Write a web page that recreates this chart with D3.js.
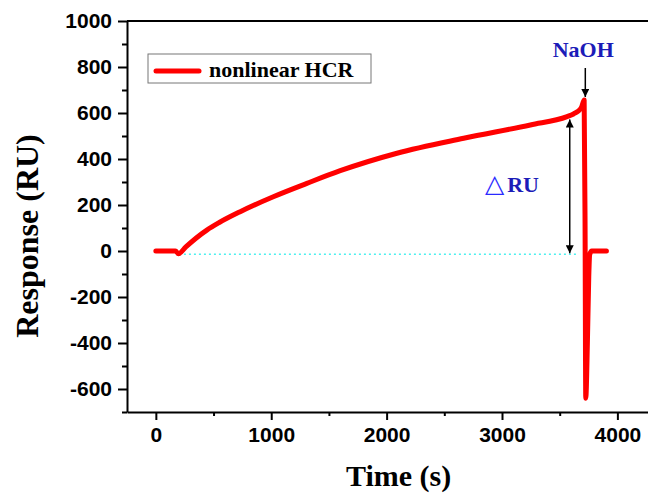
<!DOCTYPE html>
<html>
<head>
<meta charset="utf-8">
<script src="https://cdn.jsdelivr.net/npm/d3@7"></script>
<style>
    body { margin: 0; background: #fff; }
    svg { display: block; }
</style>
</head>
<body>
<div id="chart"></div>
<script>
// sensorgram
const times  = [0, 100, 170, 196, 260, 442, 550, 731, 1018, 1309, 1598, 2090, 2668, 3246, 3564, 3620, 3660, 3690, 3712, 3720, 3726, 3740, 3752, 3760, 3778, 3905];
const values = [0, 0, 0, -12, 18, 91, 124, 171, 236, 294, 349, 425, 490, 548, 584, 596, 608, 626, 656, 100, -640, -400, -110, -15, 0, 0];

const seriesName = "nonlinear HCR";
const xTicks = [0, 1000, 2000, 3000, 4000];
const xMinor = [500, 1500, 2500, 3500];
const yTicks = [-600, -400, -200, 0, 200, 400, 600, 800, 1000];
const yMinor = [-700, -500, -300, -100, 100, 300, 500, 700, 900];

// annotations: baseline, delta-RU arrow, injection arrow
const baseline = { from: 200, to: 3650, value: -14 };
const deltaArrow = { t: 3587, from: -10, to: 572 };
const naohArrow = { t: 3722, label: "NaOH" };

const width = 648, height = 494;
const margin = { top: 21, left: 127, bottom: 412 };

const svg = d3.select("#chart").append("svg")
    .attr("width", width)
    .attr("height", height);

const x = d3.scaleLinear().domain([-250, 4300]).range([margin.left, 652]);
const y = d3.scaleLinear().domain([-700, 1000]).range([margin.bottom, margin.top]);

const tickFont = "'Liberation Sans', Arial, sans-serif";
const serif = "'Liberation Serif', 'Times New Roman', serif";
const blue = "#1c1cb8";
const plain = d => String(d);

// frame top line
svg.append("line")
    .attr("x1", margin.left).attr("x2", width)
    .attr("y1", margin.top).attr("y2", margin.top)
    .attr("stroke", "#000").attr("stroke-width", 2);

// axes
svg.append("g")
    .attr("transform", `translate(0,${margin.bottom})`)
    .call(d3.axisBottom(x).tickValues(xTicks).tickFormat(plain).tickSize(8).tickSizeOuter(0).tickPadding(7));

svg.append("g")
    .attr("transform", `translate(0,${margin.bottom})`)
    .call(d3.axisBottom(x).tickValues(xMinor).tickSize(4).tickFormat(""))
    .call(g => g.select(".domain").remove());

svg.append("g")
    .attr("transform", `translate(${margin.left},0)`)
    .call(d3.axisLeft(y).tickValues(yTicks).tickFormat(plain).tickSize(9).tickSizeOuter(0).tickPadding(6));

svg.append("g")
    .attr("transform", `translate(${margin.left},0)`)
    .call(d3.axisLeft(y).tickValues(yMinor).tickSize(5).tickFormat(""))
    .call(g => g.select(".domain").remove());

svg.selectAll(".domain").attr("stroke-width", 2);
svg.selectAll(".tick line").attr("stroke-width", 2);
svg.selectAll(".tick text")
    .style("font-family", tickFont)
    .style("font-weight", "bold")
    .style("font-size", "21px")
    .attr("fill", "#000");

// axis titles
svg.append("text")
    .attr("x", x(2000) + 12)
    .attr("y", 486)
    .attr("text-anchor", "middle")
    .style("font-family", serif)
    .style("font-weight", "bold")
    .style("font-size", "30px")
    .text("Time (s)");

svg.append("text")
    .attr("transform", "translate(38,236) rotate(-90)")
    .attr("text-anchor", "middle")
    .style("font-family", serif)
    .style("font-weight", "bold")
    .style("font-size", "32px")
    .text("Response (RU)");

// dotted baseline
svg.append("line")
    .attr("x1", x(baseline.from)).attr("x2", x(baseline.to))
    .attr("y1", y(baseline.value)).attr("y2", y(baseline.value))
    .attr("stroke", "#4ef0f0")
    .attr("stroke-width", 1.5)
    .attr("stroke-dasharray", "2 3");

// arrow heads
svg.append("defs").append("marker")
    .attr("id", "head")
    .attr("viewBox", "0 0 10 10")
    .attr("refX", 10).attr("refY", 5)
    .attr("markerWidth", 11).attr("markerHeight", 8)
    .attr("markerUnits", "userSpaceOnUse")
    .attr("orient", "auto-start-reverse")
    .append("path")
    .attr("d", "M0,0 L10,5 L0,10 Z")
    .attr("fill", "#000");

// curve
const line = d3.line()
    .x((d, i) => x(times[i]))
    .y(d => y(d))
    .curve(d3.curveMonotoneX);

svg.append("path")
    .datum(values)
    .attr("d", line)
    .attr("fill", "none")
    .attr("stroke", "#ff0000")
    .attr("stroke-width", 5)
    .attr("stroke-linejoin", "round")
    .attr("stroke-linecap", "round");

// delta RU double arrow
svg.append("line")
    .attr("x1", x(deltaArrow.t)).attr("x2", x(deltaArrow.t))
    .attr("y1", y(deltaArrow.from)).attr("y2", y(deltaArrow.to))
    .attr("stroke", "#000")
    .attr("stroke-width", 1.5)
    .attr("marker-start", "url(#head)")
    .attr("marker-end", "url(#head)");

const dText = svg.append("text")
    .attr("x", 485)
    .attr("y", 192)
    .attr("fill", blue)
    .style("font-family", serif)
    .style("font-size", "22px");
dText.append("tspan")
    .style("font-family", "'DejaVu Sans', sans-serif")
    .style("font-weight", "normal")
    .style("font-size", "25px")
    .attr("fill", "#2a2aff")
    .text("\u25B3");
dText.append("tspan")
    .attr("dx", 3)
    .style("font-weight", "bold")
    .text("RU");

// NaOH injection
svg.append("line")
    .attr("x1", x(naohArrow.t)).attr("x2", x(naohArrow.t))
    .attr("y1", 68).attr("y2", 97)
    .attr("stroke", "#000")
    .attr("stroke-width", 1.5)
    .attr("marker-end", "url(#head)");

svg.append("text")
    .attr("x", x(naohArrow.t) - 2)
    .attr("y", 57)
    .attr("text-anchor", "middle")
    .attr("fill", blue)
    .style("font-family", serif)
    .style("font-weight", "bold")
    .style("font-size", "22px")
    .text(naohArrow.label);

// legend
const legend = svg.append("g").attr("transform", "translate(148,54)");
legend.append("rect")
    .attr("width", 223).attr("height", 29)
    .attr("fill", "#fff")
    .attr("stroke", "#777")
    .attr("stroke-width", 1);
legend.append("line")
    .attr("x1", 8).attr("x2", 51)
    .attr("y1", 17).attr("y2", 17)
    .attr("stroke", "#ff0000")
    .attr("stroke-width", 5)
    .attr("stroke-linecap", "round");
legend.append("text")
    .attr("x", 61).attr("y", 23)
    .style("font-family", serif)
    .style("font-weight", "bold")
    .style("font-size", "22px")
    .text(seriesName);
</script>
</body>
</html>
